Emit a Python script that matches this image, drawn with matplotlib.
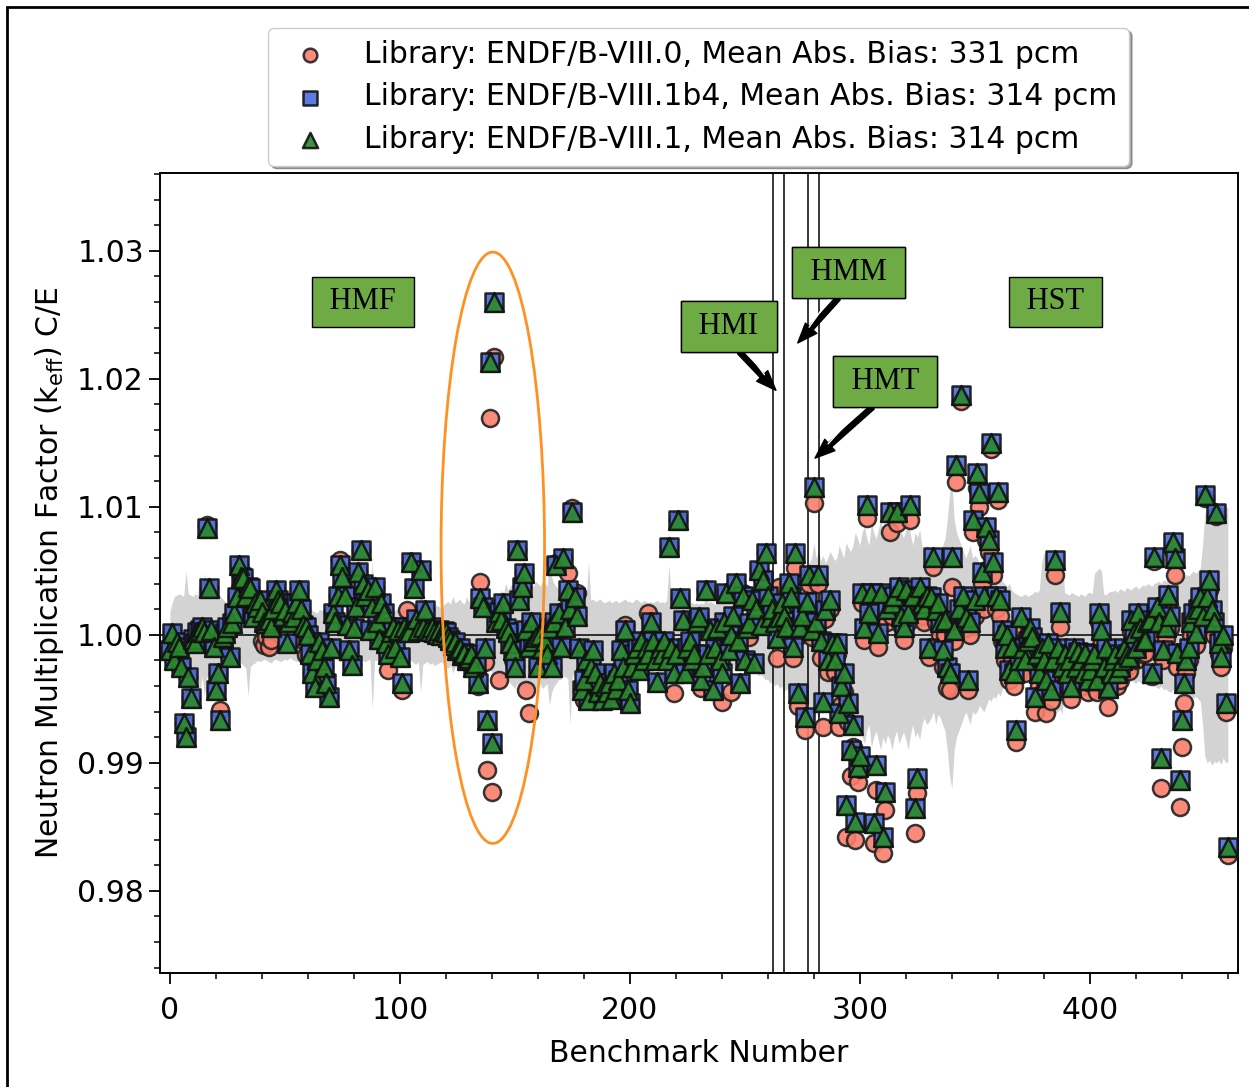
import numpy as np
import matplotlib
matplotlib.use('Agg')
import matplotlib.pyplot as plt
from matplotlib.patches import Ellipse, Rectangle
from matplotlib.ticker import MultipleLocator

# C/E - 1 in pcm, one value per benchmark (VIII.1b4 and VIII.1 sit on top of each other)
bias_81 = [
    -117, 16, -195, -60, -94, -250, -690, -797, -328, -492,
    -30, -62, 20, 39, 60, 20, 836, 367, 39, -94,
    -430, -297, -664, -20, 16, 60, -172, 94, 172, 297,
    547, 450, 445, 300, 375, 367, 141, 250, 219, 273,
    180, 100, 94, 117, 60, 200, 352, 273, 250, 150,
    195, -62, 100, 180, 141, 250, 352, 200, 80, 62,
    0, -150, -297, -406, -200, -60, -117, -250, -375, -484,
    -100, 172, 100, 300, 547, 450, 300, 80, -117, -234,
    50, 219, 492, 664, 400, 300, 352, 39, 219, 375,
    100, -30, 250, 172, -62, -150, 20, 60, -100, 40,
    -172, -375, 60, 30, 20, 570, 367, 120, 40, 508,
    60, 195, 40, 30, 60, 20, 10, 40, 0, 30,
    20, -20, -40, -80, -60, -120, -100, -160, -140, -200,
    -180, -150, -250, -220, -375, 290, 219, -100, -664, 2130,
    -844, 2600, 100, 180, 117, 250, 50, 20, -62, -120,
    -250, 664, 273, 375, 484, 39, -94, 100, -50, -20,
    -250, 0, -100, -50, -150, 50, -250, 100, 547, 172,
    -94, 600, 62, 352, 200, 960, 297, 150, -100, -430,
    -350, -200, -508, -250, -117, -300, -450, -375, -508, -400,
    -450, -380, -500, -300, -420, -350, -117, -250, 39, -430,
    -530, -250, -150, -100, -273, -50, -200, -100, -150, 102,
    -50, -200, -367, -100, -150, -50, -200, 688, -100, -300,
    -150, 898, 290, 117, -297, -100, -50, -200, -150, 100,
    141, -350, -250, 352, -150, 39, -430, -100, 50, -200,
    -300, 100, 328, -117, 0, 150, 406, -50, -375, 300,
    -200, 50, 94, 273, -219, 200, 508, 78, 430, 640,
    300, 141, 200, 100, -23, 141, 250, 150, 62, 406,
    297, -94, 640, -453, 62, 150, -641, 258, 469, 39,
    1156, 100, 469, -50, -523, 195, -195, 273, -62, -195,
    -62, -609, -400, -300, -1328, -531, -900, -703, -1461, -1031,
    -950, 328, 55, 1016, 172, 328, -1469, -1016, 16, 328,
    -1578, -1226, 200, 961, 250, 300, 961, 375, 150, 62,
    352, 172, 1016, 300, -1352, -1117, 375, 250, 200, 300,
    -102, 297, 609, 195, 250, 100, -117, 117, -250, -300,
    609, 39, 1328, 200, 1870, 300, 141, -352, 100, 898,
    273, 1266, 1109, 492, 300, 844, 742, 1500, 570, 300,
    1117, 273, 39, -100, 0, -273, -94, -300, -742, -200,
    141, -100, -200, -50, 50, -16, -484, -150, -297, -100,
    -200, -350, -62, -430, -200, 586, -100, 180, -250, -150,
    -300, -195, -406, -100, -250, -133, -200, -300, -141, -350,
    -273, -200, -150, -352, 172, 39, -250, -100, -414, -300,
    -200, -150, -300, -250, -200, -100, -150, -172, 117, 16,
    -100, 172, 50, -50, -39, 100, 117, -297, 609, 219,
    100, -961, -117, 62, 312, 150, 727, 602, -141, -1133,
    -664, -375, -195, -100, 100, 172, 16, 200, 297, 150,
    1094, 297, 430, 195, 100, 953, -62, -172, 0, -531, -1656,
]

bias_81b4 = [
    -117, 16, -195, -60, -94, -250, -690, -797, -328, -492,
    -30, -62, 20, 39, 60, 20, 836, 367, 39, -94,
    -430, -297, -664, -20, 16, 60, -172, 94, 172, 297,
    547, 450, 445, 300, 375, 367, 141, 250, 219, 273,
    180, 100, 94, 117, 60, 200, 352, 273, 250, 150,
    195, -62, 100, 180, 141, 250, 352, 200, 80, 62,
    0, -150, -297, -406, -200, -60, -117, -250, -375, -484,
    -100, 172, 100, 300, 547, 450, 300, 80, -117, -234,
    50, 219, 492, 664, 400, 300, 352, 39, 219, 375,
    100, -30, 250, 172, -62, -150, 20, 60, -100, 40,
    -172, -375, 60, 30, 20, 570, 367, 120, 40, 508,
    60, 195, 40, 30, 60, 20, 10, 40, 0, 30,
    20, -20, -40, -80, -60, -120, -100, -160, -140, -200,
    -180, -150, -250, -220, -375, 290, 219, -100, -664, 2130,
    -844, 2600, 100, 180, 117, 250, 50, 20, -62, -120,
    -250, 664, 273, 375, 484, 39, -94, 100, -50, -20,
    -250, 0, -100, -50, -150, 50, -250, 100, 547, 172,
    -94, 600, 62, 352, 200, 960, 297, 150, -100, -430,
    -350, -200, -508, -250, -117, -300, -450, -375, -508, -400,
    -450, -380, -500, -300, -420, -350, -117, -250, 39, -430,
    -530, -250, -150, -100, -273, -50, -200, -100, -150, 102,
    -50, -200, -367, -100, -150, -50, -200, 688, -100, -300,
    -150, 898, 290, 117, -297, -100, -50, -200, -150, 100,
    141, -350, -250, 352, -150, 39, -430, -100, 50, -200,
    -300, 100, 328, -117, 0, 150, 406, -50, -375, 300,
    -200, 50, 94, 273, -219, 200, 508, 78, 430, 640,
    300, 141, 200, 100, -23, 141, 250, 150, 62, 406,
    297, -94, 640, -453, 62, 150, -641, 258, 469, 39,
    1156, 100, 469, -50, -523, 195, -195, 273, -62, -195,
    -62, -609, -400, -300, -1328, -531, -900, -703, -1461, -1031,
    -950, 328, 55, 1016, 172, 328, -1469, -1016, 16, 328,
    -1578, -1226, 200, 961, 250, 300, 961, 375, 150, 62,
    352, 172, 1016, 300, -1352, -1117, 375, 250, 200, 300,
    -102, 297, 609, 195, 250, 100, -117, 117, -250, -300,
    609, 39, 1328, 200, 1870, 300, 141, -352, 100, 898,
    273, 1266, 1109, 492, 300, 844, 742, 1500, 570, 300,
    1117, 273, 39, -100, 0, -273, -94, -300, -742, -200,
    141, -100, -200, -50, 50, -16, -484, -150, -297, -100,
    -200, -350, -62, -430, -200, 586, -100, 180, -250, -150,
    -300, -195, -406, -100, -250, -133, -200, -300, -141, -350,
    -273, -200, -150, -352, 172, 39, -250, -100, -414, -300,
    -200, -150, -300, -250, -200, -100, -150, -172, 117, 16,
    -100, 172, 50, -50, -39, 100, 117, -297, 609, 219,
    100, -961, -117, 62, 312, 150, 727, 602, -141, -1133,
    -664, -375, -195, -100, 100, 172, 16, 200, 297, 150,
    1094, 297, 430, 195, 100, 953, -62, -172, 0, -531, -1656,
]

bias_80 = [
    -117, 16, -195, -60, -94, -250, -690, -797, -328, -492,
    -30, -62, 20, 39, 60, 20, 856, 367, 39, -94,
    -430, -297, -586, -20, 16, 60, -172, 94, 172, 297,
    547, 450, 445, 300, 375, 367, 141, 250, 219, 273,
    -50, -80, -16, -94, -40, 200, 352, 273, 250, 150,
    195, -62, 100, 180, 141, 250, 352, 200, -39, -156,
    0, -150, -297, -406, -200, -60, -117, -250, -375, -484,
    -100, 172, 100, 300, 587, 490, 300, 80, -117, -234,
    50, 219, 492, 664, 400, 300, 352, 39, 219, 375,
    100, -30, 250, 172, -62, -273, 20, 60, -100, 40,
    -172, -430, 60, 195, 20, 570, 367, 120, 40, 508,
    60, 195, 40, 30, 60, 20, 10, 40, 0, 30,
    20, -20, -40, -80, -60, -120, -100, -160, -140, -200,
    -180, -150, -250, -220, -400, 414, 219, -211, -1055, 1690,
    -1226, 2170, 100, -352, 117, 250, 50, 20, -62, -195,
    -250, 664, 273, 375, 484, -430, -610, 100, -50, -20,
    -250, 0, -100, -50, -150, 50, -250, 100, 562, 172,
    -94, 600, 62, 484, 200, 990, 297, 328, -100, -430,
    -508, -200, -508, -250, -117, -300, -450, -375, -508, -400,
    -450, -380, -500, -300, -420, -350, -117, -250, 78, -430,
    -530, -250, -150, -100, -273, -50, -200, -100, 172, 102,
    -50, -200, -367, -100, -150, -50, -200, 688, -100, -453,
    -150, 898, 290, 117, -297, -100, -50, -200, -150, 100,
    141, -414, -250, 352, -150, 39, -430, -100, 50, -200,
    -523, 100, 328, -117, -445, 150, 406, -50, -375, 328,
    -200, 50, -16, 273, -219, 200, 508, 78, 430, 640,
    300, 141, 200, 100, -180, 375, 250, 150, 62, 406,
    250, -180, 523, -560, 0, 100, -742, 200, 400, -20,
    1031, 40, 400, -180, -719, 120, -289, 200, -150, -290,
    -150, -720, -550, -450, -1578, -680, -1100, -875, -1602, -1148,
    -1050, 250, -39, 914, 100, 250, -1625, -1211, -94, 250,
    -1703, -1367, 100, 805, 150, 200, 875, 300, 80, -39,
    250, 100, 898, 200, -1547, -1234, 300, 150, 100, 200,
    -172, 200, 531, 100, 150, 0, -250, 0, -414, -430,
    375, -50, 1195, 100, 1830, 200, 50, -430, 0, 800,
    150, 1150, 1000, 400, 200, 740, 650, 1450, 470, 200,
    1050, 150, -50, -200, -100, -350, -200, -400, -836, -300,
    50, -200, -300, -150, -50, -100, -600, -250, -400, -200,
    -300, -609, -150, -520, -300, 469, -200, 62, -350, -250,
    -400, -300, -500, -200, -350, -230, -300, -400, -250, -450,
    -380, -300, -250, -450, 100, -78, -350, -200, -562, -400,
    -300, -250, -400, -350, -300, -200, -250, -280, 20, -80,
    -200, 80, -50, -150, -140, 0, 20, -320, 580, 150,
    0, -1195, -200, -30, 250, 50, 660, 469, -250, -1344,
    -875, -531, -300, -200, 0, 100, -80, 120, 220, 80,
    1070, 220, 350, 120, 0, 930, -150, -250, -100, -600, -1720,
]

# experimental uncertainty in pcm (grey band)
unc_exp = [
    180, 250, 300, 310, 320, 310, 300, 500, 320, 310,
    300, 320, 310, 470, 320, 480, 330, 320, 300, 330,
    350, 330, 300, 280, 260, 250, 240, 230, 250, 240,
    230, 220, 240, 260, 480, 250, 230, 220, 200, 210,
    200, 190, 200, 210, 220, 200, 190, 200, 210, 200,
    190, 200, 180, 190, 200, 210, 190, 180, 200, 190,
    180, 200, 190, 180, 170, 200, 190, 200, 210, 190,
    200, 190, 180, 200, 210, 190, 180, 200, 190, 200,
    210, 200, 190, 220, 200, 210, 200, 190, 580, 200,
    200, 210, 220, 200, 190, 200, 210, 200, 190, 200,
    210, 200, 220, 230, 210, 200, 220, 230, 210, 450,
    230, 220, 210, 230, 220, 240, 230, 220, 210, 230,
    250, 260, 240, 300, 250, 260, 280, 250, 240, 300,
    260, 250, 270, 280, 300, 260, 250, 270, 280, 260,
    300, 280, 320, 300, 350, 320, 400, 350, 380, 400,
    420, 380, 450, 400, 420, 380, 440, 400, 380, 420,
    400, 380, 420, 400, 380, 550, 450, 400, 380, 350,
    350, 320, 330, 340, 700, 320, 300, 280, 290, 300,
    280, 290, 570, 270, 280, 260, 270, 280, 260, 250,
    260, 270, 250, 260, 270, 250, 260, 270, 280, 260,
    260, 250, 270, 280, 260, 250, 270, 260, 250, 260,
    250, 260, 270, 250, 260, 250, 270, 550, 260, 250,
    260, 250, 240, 230, 250, 240, 260, 250, 240, 250,
    240, 250, 240, 300, 250, 260, 250, 240, 250, 260,
    260, 250, 270, 260, 250, 270, 260, 280, 270, 280,
    280, 290, 300, 280, 290, 300, 320, 310, 330, 350,
    350, 380, 360, 400, 380, 420, 400, 450, 420, 440,
    450, 480, 460, 500, 480, 520, 500, 540, 560, 600,
    720, 600, 650, 580, 620, 560, 600, 650, 620, 580,
    600, 700, 650, 600, 720, 680, 650, 700, 800, 750,
    700, 800, 850, 750, 700, 880, 800, 750, 820, 900,
    800, 850, 780, 820, 900, 800, 750, 850, 800, 760,
    820, 900, 780, 700, 800, 760, 820, 700, 650, 700,
    680, 650, 600, 700, 620, 650, 700, 750, 900, 1100,
    1200, 900, 800, 750, 700, 650, 600, 650, 700, 600,
    620, 600, 550, 580, 600, 550, 500, 520, 480, 500,
    450, 480, 420, 400, 380, 400, 350, 330, 320, 310,
    300, 310, 320, 300, 310, 320, 340, 330, 350, 560,
    640, 620, 650, 600, 640, 620, 600, 580, 620, 330,
    320, 310, 330, 320, 310, 300, 320, 310, 300, 330,
    330, 320, 480, 500, 520, 500, 320, 310, 330, 340,
    340, 350, 330, 360, 350, 340, 370, 360, 350, 370,
    380, 360, 370, 390, 380, 400, 390, 380, 400, 410,
    420, 400, 430, 420, 440, 450, 430, 420, 440, 450,
    460, 450, 470, 460, 480, 500, 480, 500, 520, 700,
    950, 1000, 980, 1020, 990, 1000, 980, 1010, 960, 1000, 990,
]

labels = ['Library: ENDF/B-VIII.0, Mean Abs. Bias: 331 pcm',
          'Library: ENDF/B-VIII.1b4, Mean Abs. Bias: 314 pcm',
          'Library: ENDF/B-VIII.1, Mean Abs. Bias: 314 pcm']

# boundaries between benchmark groups
group_edges = [262.2, 267.0, 277.4, 282.2]

# group names: (text, box position, arrow target or None)
groups = [('HMF', (84, 1.0260), None),
          ('HST', (385, 1.0260), None),
          ('HMI', (243, 1.0241), (263.5, 1.0191)),
          ('HMM', (295, 1.0283), (273, 1.0228)),
          ('HMT', (311, 1.0198), (280.5, 1.0138))]

bench = np.arange(len(bias_81))
ce_80 = 1 + np.array(bias_80) / 1e5
ce_81b4 = 1 + np.array(bias_81b4) / 1e5
ce_81 = 1 + np.array(bias_81) / 1e5
sig = np.array(unc_exp) / 1e5

fs = 21.5
fig = plt.figure(figsize=(12.49, 10.87), dpi=100)
ax = fig.add_axes([0.128, 0.105, 0.863, 0.736])

ax.fill_between(bench, 1 - sig, 1 + sig, color='#d3d3d3', lw=0, zorder=1)
ax.axhline(1.0, color='k', lw=1.1, zorder=2)
for xe in group_edges:
    ax.axvline(xe, color='k', lw=1.1, zorder=2)

ax.scatter(bench, ce_80, s=150, marker='o', c='#fa7f6c', edgecolors='#222222',
           linewidths=1.8, alpha=0.9, zorder=3, label=labels[0])
ax.scatter(bench, ce_81b4, s=170, marker='s', c='#4a6fdc', edgecolors='#111111',
           linewidths=1.8, alpha=0.9, zorder=4, label=labels[1])
ax.scatter(bench, ce_81, s=185, marker='^', c='#2a8a2a', edgecolors='#111111',
           linewidths=1.8, alpha=0.9, zorder=5, label=labels[2])

ell = Ellipse((140.4, 1.0068), 45, 0.0462, fill=False, ec='#ff9124', lw=2, zorder=6)
ax.add_patch(ell)

boxprops = dict(boxstyle='square,pad=0.35', fc='#6eab45', ec='black', lw=1)
for name, pos, target in groups:
    if target is not None:
        # black arrow leaving the bottom of the box
        ax.annotate(' ' + name + ' ', xy=target, xytext=pos, ha='center', va='center',
                    fontsize=22, family='Liberation Serif', bbox=boxprops, zorder=6.8,
                    arrowprops=dict(arrowstyle='simple,head_length=0.65,head_width=0.5,tail_width=0.17',
                                    fc='black', ec='black', lw=1.0, relpos=(0.5, 0),
                                    shrinkA=0, shrinkB=0))
        # light centre line of the arrow shaft
        ax.annotate('', xy=target, xytext=pos, zorder=6.9,
                    arrowprops=dict(arrowstyle='-', color='white', lw=1.0,
                                    shrinkA=0, shrinkB=14, patchA=None))
    ax.text(pos[0], pos[1], ' ' + name + ' ', ha='center', va='center',
            fontsize=22, family='Liberation Serif', bbox=boxprops, zorder=7)

ax.set_xlim(-4.35, 464.3)
ax.set_ylim(0.97359, 1.03609)
ax.set_xticks([0, 100, 200, 300, 400])
ax.set_yticks([0.98, 0.99, 1.00, 1.01, 1.02, 1.03])
ax.yaxis.set_major_formatter(matplotlib.ticker.FormatStrFormatter('%.2f'))
ax.xaxis.set_minor_locator(MultipleLocator(20))
ax.yaxis.set_minor_locator(MultipleLocator(0.002))
ax.tick_params(which='major', length=8, width=1.3, labelsize=fs)
ax.tick_params(axis='x', which='major', pad=8.5)
ax.tick_params(which='minor', length=4, width=1.1)
for sp in ax.spines.values():
    sp.set_linewidth(1.4)

ax.set_xlabel('Benchmark Number', fontsize=fs, labelpad=10)
ax.set_ylabel(r'Neutron Multiplication Factor (k$_{\rm eff}$) C/E', fontsize=fs, labelpad=8)

leg = ax.legend(loc='upper center', bbox_to_anchor=(0.5, 1.181), borderaxespad=0,
                fontsize=fs, shadow=True, fancybox=True, framealpha=1,
                labelspacing=0.45, markerscale=0.8)
leg.get_frame().set_edgecolor('#cccccc')

# frame around the figure like the screenshot
fig.add_artist(Rectangle((0.0056, -0.02), 1.2, 1.0136, transform=fig.transFigure,
                         fill=False, ec='black', lw=2))

fig.savefig('out.png', dpi=100)
